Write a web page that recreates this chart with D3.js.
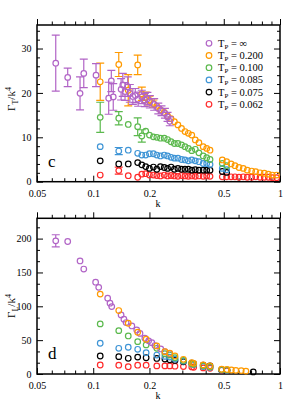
<!DOCTYPE html>
<html>
<head>
<meta charset="utf-8">
<script src="https://cdn.jsdelivr.net/npm/d3@7"></script>
<style>
  body { margin: 0; background: #fff; }
  svg text { font-family: "Liberation Serif", "DejaVu Serif", serif; fill: #000; }
</style>
</head>
<body>
<svg id="chart" width="291" height="412"></svg>
<script>
// ---- data: panel c (transverse) ----
var kTop = [0.109, 0.137, 0.154, 0.173, 0.182, 0.191, 0.200, 0.210, 0.219, 0.229, 0.240, 0.250,
  0.261, 0.272, 0.284, 0.297, 0.310, 0.323, 0.337, 0.352, 0.368, 0.388, 0.405, 0.422,
  0.491, 0.518, 0.547, 0.574, 0.603, 0.636, 0.668, 0.705, 0.741, 0.782, 0.824, 0.866, 0.909, 0.960];

var topInfK = [0.063, 0.073, 0.085, 0.089, 0.1035, 0.121, 0.125, 0.128, 0.141, 0.144, 0.148, 0.153, 0.157,
  0.163, 0.168, 0.174, 0.182, 0.189, 0.195, 0.201, 0.212, 0.223, 0.232, 0.242, 0.250, 0.257];
var topInf = [26.7, 23.5, 19.9, 24.4, 24.0, 18.8, 22.7, 19.1, 20.8, 21.8, 20.3, 21.4, 19.9,
  19.2, 19.4, 18.6, 19.1, 18.4, 18.7, 18.0, 17.4, 16.5, 16.0, 15.4, 14.6, 13.6];
var topInfErr = [6.3, 2.1, 3.7, 3.2, 2.6, 3.6, 2.4, 3.0, 2.4, 2.6, 2.0, 2.2, 2.0,
  1.8, 1.6, 1.6, 1.5, 1.5, 1.4, 1.4, 1.3, 1.2, 1.1, 1.1, 1.0, 1.0];

var top200 = [22.5, 26.4, 20.6, 26.3, 19.8, 19.0, 18.3, 17.6, 17.0, 16.2, 15.6, 14.8,
  14.2, 13.5, 12.8, 12.0, 11.3, 10.9, 10.5, 9.4, 8.8, 7.9, 7.5, 7.1,
  4.9, 4.5, 4.0, 3.6, 3.2, 3.0, 2.6, 2.4, 2.25, 2.0, 1.9, 1.7, 1.5, 1.5];
var top200Err = [4.2, 2.7, 3.5, 2.2, 1.5, 1.2, 1.0, 0.8, 0.6];

var top100 = [14.5, 14.3, 12.9, 12.4, 10.3, 11.4, 10.5, 10.1, 10.0, 9.8, 9.8, 9.5,
  9.0, 8.6, 8.6, 8.3, 7.9, 7.5, 7.0, 7.3, 6.5, 5.8, 5.4, 5.0, 4.1, 3.6];
var top100Err = [3.4, 1.5, 0.4, 2.0, 1.4];

var top085 = [7.9, 6.9, 7.1, 6.4, 6.0, 6.0, 6.3, 6.3, 6.0, 5.8, 6.0, 5.8,
  5.5, 5.3, 5.3, 5.0, 4.9, 4.7, 4.9, 4.7, 4.5, 4.1, 4.1, 3.9, 3.0, 2.7];
var top085Err = [0.5, 0.8];

var top075 = [4.7, 4.0, 4.0, 4.3, 3.8, 3.4, 3.0, 3.3, 2.8, 3.4, 3.2, 3.0,
  3.3, 2.8, 3.0, 2.8, 2.8, 2.8, 2.6, 2.7, 2.6, 2.6, 2.6, 2.6, 2.3, 2.1];
var top075Err = [0.5, 0.3, 0, 0.5];

var top062 = [1.5, 2.5, 1.35, 1.0, 1.7, 1.8, 1.5, 1.5, 1.4, 1.3, 1.5, 1.3,
  1.4, 1.3, 1.2, 1.4, 1.3, 1.2, 1.3, 1.2, 1.3, 1.2, 1.3, 1.2,
  1.1, 1.1, 1.1, 1.1, 1.0, 1.1, 1.0, 1.0, 1.1, 1.0, 1.0, 1.0, 0.9, 0.9];
var top062Err = [0.4, 0.8, 0, 0.5];

// ---- data: panel d (longitudinal) ----
var kBot = [0.109, 0.137, 0.154, 0.173, 0.192, 0.219, 0.242, 0.257, 0.274, 0.304, 0.337, 0.345,
  0.388, 0.422, 0.487, 0.520, 0.549, 0.580, 0.620, 0.657, 0.719];

var botInfK = [0.063, 0.073, 0.085, 0.089, 0.103, 0.107, 0.1195, 0.123, 0.1256, 0.141, 0.146, 0.150,
  0.161, 0.171, 0.178, 0.189, 0.198, 0.206, 0.214, 0.230, 0.242, 0.257];
var botInf = [196.7, 195.7, 167, 155, 135.6, 128, 112, 104.6, 99.6, 87.3, 81, 76,
  71, 65, 60, 52.8, 49, 46.3, 42, 37, 33, 30];
var botInfErr = [9, 0, 3];

var bot200 = [118, 93.7, 75, 61.7, 51.3, 41.4, 33, 30.7, 26.6, 21.7, 16.7, 15.8,
  13.3, 11.8, 7, 6.7, 5.9, 5.4, 5.0, 4.3, null];
var bot100 = [74, 64, 56.2, 47.8, 43, 38, 30, 28, 24, 20, 15, 14.5, 12, 10.5, 6.5, 6];
var bot085 = [45.4, 38, 39.5, 36.5, 31.5, 28, 26, 25, 22, 19, 15, 14, 11, 10, 6, 5.5];
var bot075 = [26.6, 25.6, 23.2, 25, 24, 23, 22, 21, 20, 18, 16, 15, 13, 12, 6, 5.5,
  null, null, null, null, 3];
var bot062 = [13.3, 13, 10.8, 13, 13, 12, 12, 12, 11.5, 11, 10.5, 10, 9, 8.5, 5.5, 5];

// ---- legend ----
var legendLabels = ["\u221E", "0.200", "0.100", "0.085", "0.075", "0.062"];
var colors = ["#b164c6", "#ff9a00", "#5bb94d", "#3f95d6", "#000000", "#ff2a2a"];

var xMajor = [0.05, 0.1, 0.2, 0.5, 1];
var xMinor = [0.06, 0.07, 0.08, 0.09, 0.3, 0.4, 0.6, 0.7, 0.8, 0.9];

var svg = d3.select("#chart");
var left = 37, right = 280;
var x = d3.scaleLog().domain([0.05, 1]).range([left, right]);

function makeSeries(ks, vals, errs, color) {
  var pts = [];
  ks.forEach(function(k, i) {
    if (vals[i] == null) return;
    pts.push({ k: k, v: vals[i], e: (errs && errs[i]) || 0, color: color });
  });
  return pts;
}

function drawPanel(top, bottom, ymax, yMajor, yMinor, series, letter, ylab, ylabY) {
  var y = d3.scaleLinear().domain([0, ymax]).range([bottom, top]);
  var g = svg.append("g");

  // axes with inward ticks on all four sides
  function ax(gen, tr, vals, len, labels) {
    var a = gen.tickValues(vals).tickSizeInner(-len).tickSizeOuter(0).tickPadding(len + 3);
    if (!labels) a.tickFormat("");
    var s = g.append("g").attr("transform", tr).call(a);
    s.select(".domain").remove();
    s.selectAll("line").attr("stroke", "#000").attr("stroke-width", 1);
    s.selectAll("text").style("font-size", "10px");
    return s;
  }
  ax(d3.axisBottom(x).tickFormat(d3.format("")), "translate(0," + bottom + ")", xMajor, 6, true)
    .selectAll("text").attr("dy", "0.6em");
  ax(d3.axisBottom(x), "translate(0," + bottom + ")", xMinor, 3.5, false);
  ax(d3.axisTop(x), "translate(0," + top + ")", xMajor, -6, false);
  ax(d3.axisTop(x), "translate(0," + top + ")", xMinor, -3.5, false);
  ax(d3.axisLeft(y), "translate(" + left + ",0)", yMajor, 6, true).selectAll("text").attr("dx", "0.35em");
  ax(d3.axisLeft(y), "translate(" + left + ",0)", yMinor, 3, false);
  ax(d3.axisRight(y), "translate(" + right + ",0)", yMajor, 6, false);
  ax(d3.axisRight(y), "translate(" + right + ",0)", yMinor, 3, false);

  g.append("rect")
    .attr("x", left).attr("y", top)
    .attr("width", right - left).attr("height", bottom - top)
    .attr("fill", "none").attr("stroke", "#000").attr("stroke-width", 1.5);

  var r = 2.8;
  series.forEach(function(pts) {
    var sg = g.append("g");
    var withErr = pts.filter(function(d) { return d.e > 0; });
    // error bars outside the marker, with caps
    sg.selectAll("path.err").data(withErr).enter().append("path")
      .attr("class", "err")
      .attr("d", function(d) {
        var cx = x(d.k), cy = y(d.v), y1 = y(d.v + d.e), y2 = y(d.v - d.e);
        var p = "";
        if (cy - y1 > r) p += "M" + cx + "," + (cy - r) + "V" + y1 + "M" + (cx - 4) + "," + y1 + "H" + (cx + 4);
        if (y2 - cy > r) p += "M" + cx + "," + (cy + r) + "V" + y2 + "M" + (cx - 4) + "," + y2 + "H" + (cx + 4);
        return p;
      })
      .attr("fill", "none").attr("stroke", function(d) { return d.color; }).attr("stroke-width", 1.2);
    sg.selectAll("circle").data(pts).enter().append("circle")
      .attr("cx", function(d) { return x(d.k); })
      .attr("cy", function(d) { return y(d.v); })
      .attr("r", r)
      .attr("fill", "none")
      .attr("stroke", function(d) { return d.color; })
      .attr("stroke-width", 1.2);
  });

  // panel letter
  g.append("text").attr("x", 48).attr("y", bottom - 15).style("font-size", "17px").text(letter);

  // axis titles
  g.append("text").attr("x", 158).attr("y", bottom + 25)
    .attr("text-anchor", "middle").style("font-size", "10px").text("k");

  var yt = g.append("text")
    .attr("transform", "translate(15," + ylabY + ") rotate(-90)")
    .attr("text-anchor", "middle").style("font-size", "11px");
  yt.append("tspan").text("\u0393");
  yt.append("tspan").attr("dy", 2.5).style("font-size", "8px").text(ylab);
  yt.append("tspan").attr("dy", -2.5).text("/k");
  yt.append("tspan").attr("dy", -4).style("font-size", "8px").text("4");
  return g;
}

function ticksBetween(a, b, s, majorStep) {
  var out = [];
  for (var i = 0; a + i * s <= b + 1e-9; i++) {
    var v = a + i * s;
    if (Math.abs(v / majorStep - Math.round(v / majorStep)) > 1e-6) out.push(v);
  }
  return out;
}

// panel c
var topSeries = [
  makeSeries(kTop, top062, top062Err, colors[5]),
  makeSeries(kTop, top075, top075Err, colors[4]),
  makeSeries(kTop, top085, top085Err, colors[3]),
  makeSeries(kTop, top100, top100Err, colors[2]),
  makeSeries(kTop, top200, top200Err, colors[1]),
  makeSeries(topInfK, topInf, topInfErr, colors[0])
];
var gc = drawPanel(25, 181.7, 35.3, [0, 10, 20, 30], ticksBetween(0, 34, 2, 10), topSeries, "c", "T", 99);

// legend
var leg = gc.append("g");
legendLabels.forEach(function(lab, i) {
  var ly = 43.3 + i * 12.2;
  leg.append("circle").attr("cx", 209).attr("cy", ly).attr("r", 2.8)
    .attr("fill", "none").attr("stroke", colors[i]).attr("stroke-width", 1.2);
  var t = leg.append("text").attr("x", 218).attr("y", ly + 3.5).style("font-size", "10.5px");
  t.append("tspan").text("T");
  t.append("tspan").attr("dy", 2).style("font-size", "7px").text("P");
  t.append("tspan").attr("dy", -2).text(" = " + lab);
});

// panel d
var botSeries = [
  makeSeries(kBot, bot062, null, colors[5]),
  makeSeries(kBot, bot075, null, colors[4]),
  makeSeries(kBot, bot085, null, colors[3]),
  makeSeries(kBot, bot100, null, colors[2]),
  makeSeries(botInfK, botInf, botInfErr, colors[0]),
  makeSeries(kBot, bot200, null, colors[1])
];
drawPanel(218.3, 374, 230, [0, 50, 100, 150, 200], ticksBetween(0, 225, 50 / 3, 50), botSeries, "d", "L", 306);
</script>
</body>
</html>
